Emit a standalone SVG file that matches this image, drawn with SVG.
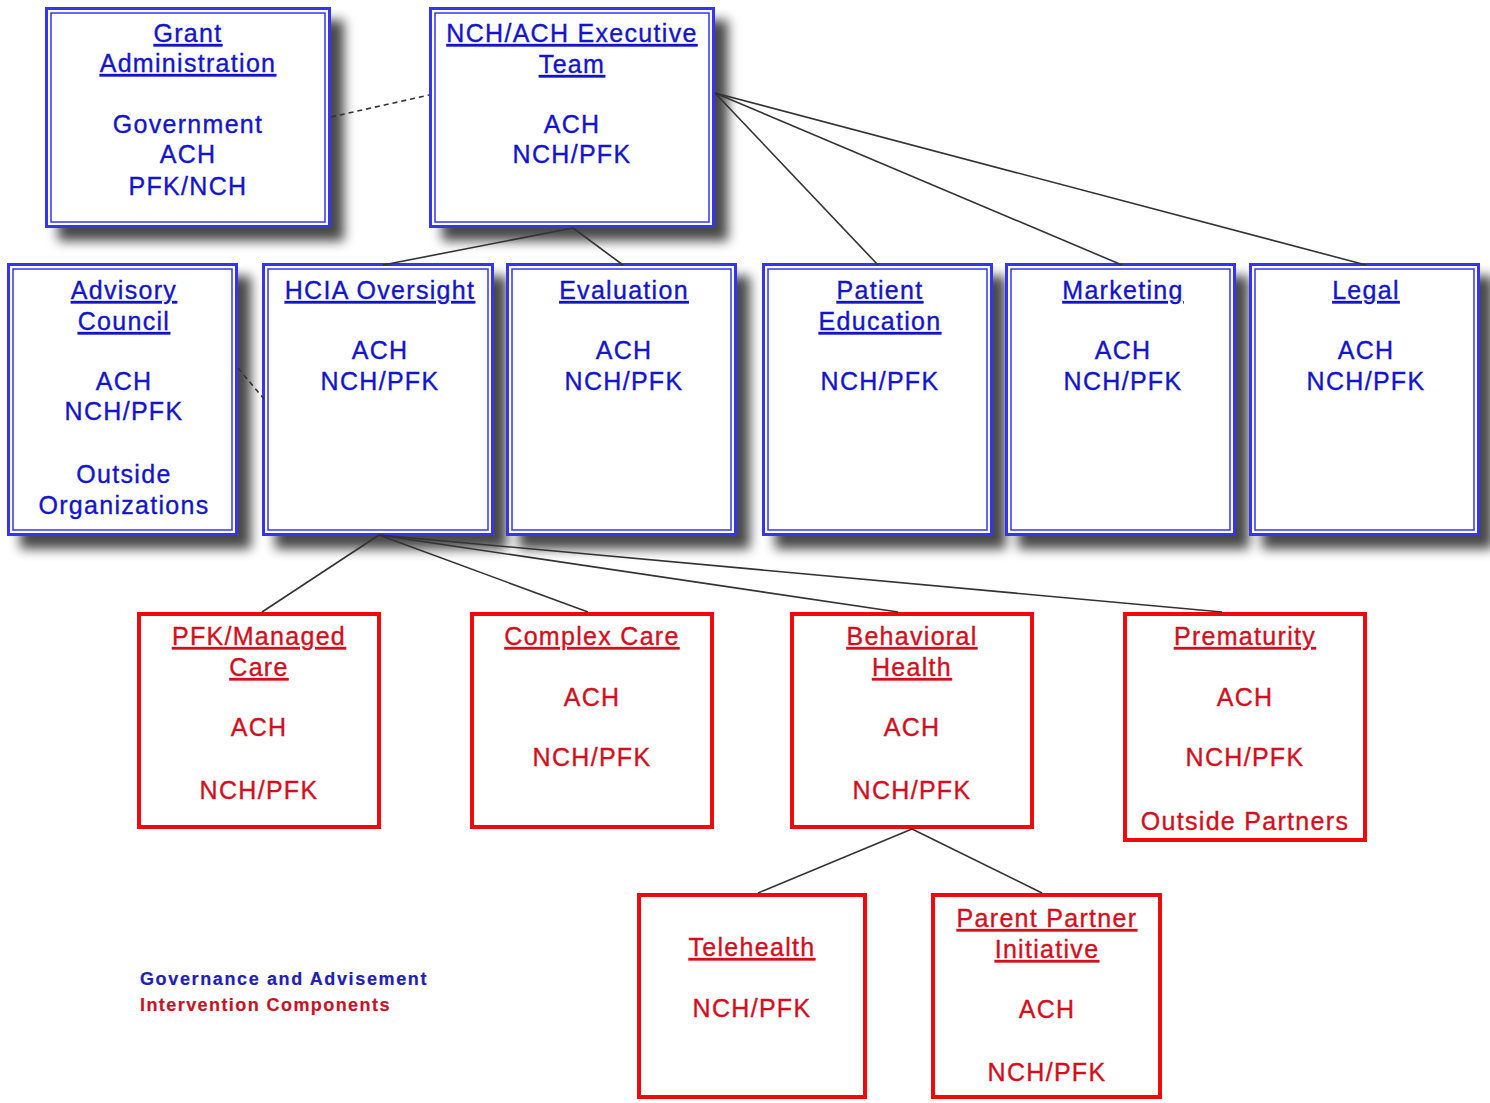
<svg xmlns="http://www.w3.org/2000/svg" width="1490" height="1103" viewBox="0 0 1490 1103">
<defs>
<filter id="sh" x="-10%" y="-10%" width="130%" height="130%">
<feGaussianBlur in="SourceAlpha" stdDeviation="6" result="b"/>
<feOffset dx="13" dy="13" result="o"/>
<feComponentTransfer in="o" result="c"><feFuncA type="linear" slope="0.72"/></feComponentTransfer>
<feMerge><feMergeNode in="c"/><feMergeNode in="SourceGraphic"/></feMerge>
</filter>
<style>
.bo{fill:#fff;stroke:#3535ee;stroke-width:3}
.bi{fill:none;stroke:#3535ee;stroke-width:1.5}
.ro{fill:#fff;stroke:#ee0a0a;stroke-width:4}
text{font-family:"Liberation Sans",Arial,sans-serif;font-size:25px;letter-spacing:1.3px;text-anchor:middle;stroke-width:0.35px}
.b{fill:#1414c8;stroke:#1414c8}
.r{fill:#d0101e;stroke:#d0101e}
.u{text-decoration:underline}
.c{stroke:#333;stroke-width:1.6;fill:none}
.d{stroke-dasharray:5 4}
.lg{font-size:18px;font-weight:bold;text-anchor:start;letter-spacing:1.6px;stroke-width:0.2px}
</style>
</defs>
<rect width="1490" height="1103" fill="#fff"/>

<g id="grant">
<rect class="bo" x="46.5" y="8.5" width="283" height="218" filter="url(#sh)"/>
<rect class="bi" x="51" y="13" width="274" height="209"/>
<text class="b u" x="188" y="42">Grant</text>
<text class="b u" x="188" y="72">Administration</text>
<text class="b" x="188" y="133">Government</text>
<text class="b" x="188" y="163">ACH</text>
<text class="b" x="188" y="195">PFK/NCH</text>
</g>

<g id="exec">
<rect class="bo" x="430.5" y="8.5" width="283" height="218" filter="url(#sh)"/>
<rect class="bi" x="435" y="13" width="274" height="209"/>
<text class="b u" x="572" y="42">NCH/ACH Executive</text>
<text class="b u" x="572" y="73">Team</text>
<text class="b" x="572" y="133">ACH</text>
<text class="b" x="572" y="163">NCH/PFK</text>
</g>

<g id="advisory">
<rect class="bo" x="8.5" y="264.5" width="228" height="270" filter="url(#sh)"/>
<rect class="bi" x="13" y="269" width="219" height="261"/>
<text class="b u" x="124" y="299">Advisory</text>
<text class="b u" x="124" y="330">Council</text>
<text class="b" x="124" y="390">ACH</text>
<text class="b" x="124" y="420">NCH/PFK</text>
<text class="b" x="124" y="483">Outside</text>
<text class="b" x="124" y="514">Organizations</text>
</g>

<g id="hcia">
<rect class="bo" x="263.5" y="264.5" width="229" height="270" filter="url(#sh)"/>
<rect class="bi" x="268" y="269" width="220" height="261"/>
<text class="b u" x="380" y="299">HCIA Oversight</text>
<text class="b" x="380" y="359">ACH</text>
<text class="b" x="380" y="390">NCH/PFK</text>
</g>

<g id="evaluation">
<rect class="bo" x="507.5" y="264.5" width="228" height="270" filter="url(#sh)"/>
<rect class="bi" x="512" y="269" width="219" height="261"/>
<text class="b u" x="624" y="299">Evaluation</text>
<text class="b" x="624" y="359">ACH</text>
<text class="b" x="624" y="390">NCH/PFK</text>
</g>

<g id="patient">
<rect class="bo" x="763.5" y="264.5" width="228" height="270" filter="url(#sh)"/>
<rect class="bi" x="768" y="269" width="219" height="261"/>
<text class="b u" x="880" y="299">Patient</text>
<text class="b u" x="880" y="330">Education</text>
<text class="b" x="880" y="390">NCH/PFK</text>
</g>

<g id="marketing">
<rect class="bo" x="1006.5" y="264.5" width="228" height="270" filter="url(#sh)"/>
<rect class="bi" x="1011" y="269" width="219" height="261"/>
<text class="b u" x="1123" y="299">Marketing</text>
<text class="b" x="1123" y="359">ACH</text>
<text class="b" x="1123" y="390">NCH/PFK</text>
</g>

<g id="legal">
<rect class="bo" x="1250.5" y="264.5" width="228" height="270" filter="url(#sh)"/>
<rect class="bi" x="1255" y="269" width="219" height="261"/>
<text class="b u" x="1366" y="299">Legal</text>
<text class="b" x="1366" y="359">ACH</text>
<text class="b" x="1366" y="390">NCH/PFK</text>
</g>

<g id="pfk">
<rect class="ro" x="139" y="614" width="240" height="213"/>
<text class="r u" x="259" y="645">PFK/Managed</text>
<text class="r u" x="259" y="676">Care</text>
<text class="r" x="259" y="736">ACH</text>
<text class="r" x="259" y="799">NCH/PFK</text>
</g>

<g id="complex">
<rect class="ro" x="472" y="614" width="240" height="213"/>
<text class="r u" x="592" y="645">Complex Care</text>
<text class="r" x="592" y="706">ACH</text>
<text class="r" x="592" y="766">NCH/PFK</text>
</g>

<g id="behavioral">
<rect class="ro" x="792" y="614" width="240" height="213"/>
<text class="r u" x="912" y="645">Behavioral</text>
<text class="r u" x="912" y="676">Health</text>
<text class="r" x="912" y="736">ACH</text>
<text class="r" x="912" y="799">NCH/PFK</text>
</g>

<g id="prematurity">
<rect class="ro" x="1125" y="614" width="240" height="226"/>
<text class="r u" x="1245" y="645">Prematurity</text>
<text class="r" x="1245" y="706">ACH</text>
<text class="r" x="1245" y="766">NCH/PFK</text>
<text class="r" x="1245" y="830">Outside Partners</text>
</g>

<g id="telehealth">
<rect class="ro" x="639" y="895" width="226" height="202"/>
<text class="r u" x="752" y="956">Telehealth</text>
<text class="r" x="752" y="1017">NCH/PFK</text>
</g>

<g id="parent">
<rect class="ro" x="933" y="895" width="227" height="202"/>
<text class="r u" x="1047" y="927">Parent Partner</text>
<text class="r u" x="1047" y="958">Initiative</text>
<text class="r" x="1047" y="1018">ACH</text>
<text class="r" x="1047" y="1081">NCH/PFK</text>
</g>

<g id="connectors">
<line class="c d" x1="331" y1="117" x2="429" y2="95"/>
<line class="c" x1="573" y1="228" x2="383" y2="265"/>
<line class="c" x1="573" y1="228" x2="623" y2="265"/>
<line class="c" x1="715" y1="93" x2="878" y2="265"/>
<line class="c" x1="715" y1="93" x2="1122" y2="265"/>
<line class="c" x1="715" y1="93" x2="1366" y2="265"/>
<line class="c d" x1="238" y1="368" x2="264" y2="399"/>
<line class="c" x1="379" y1="535" x2="262" y2="612"/>
<line class="c" x1="379" y1="535" x2="588" y2="612"/>
<line class="c" x1="379" y1="535" x2="898" y2="612"/>
<line class="c" x1="379" y1="535" x2="1222" y2="612"/>
<line class="c" x1="912" y1="829" x2="758" y2="893"/>
<line class="c" x1="912" y1="829" x2="1042" y2="893"/>
</g>

<g id="legend">
<text class="lg" x="140" y="985" fill="#2020b4" stroke="#2020b4" textLength="288">Governance and Advisement</text>
<text class="lg" x="140" y="1011" fill="#c41428" stroke="#c41428" textLength="251">Intervention Components</text>
</g>
</svg>
